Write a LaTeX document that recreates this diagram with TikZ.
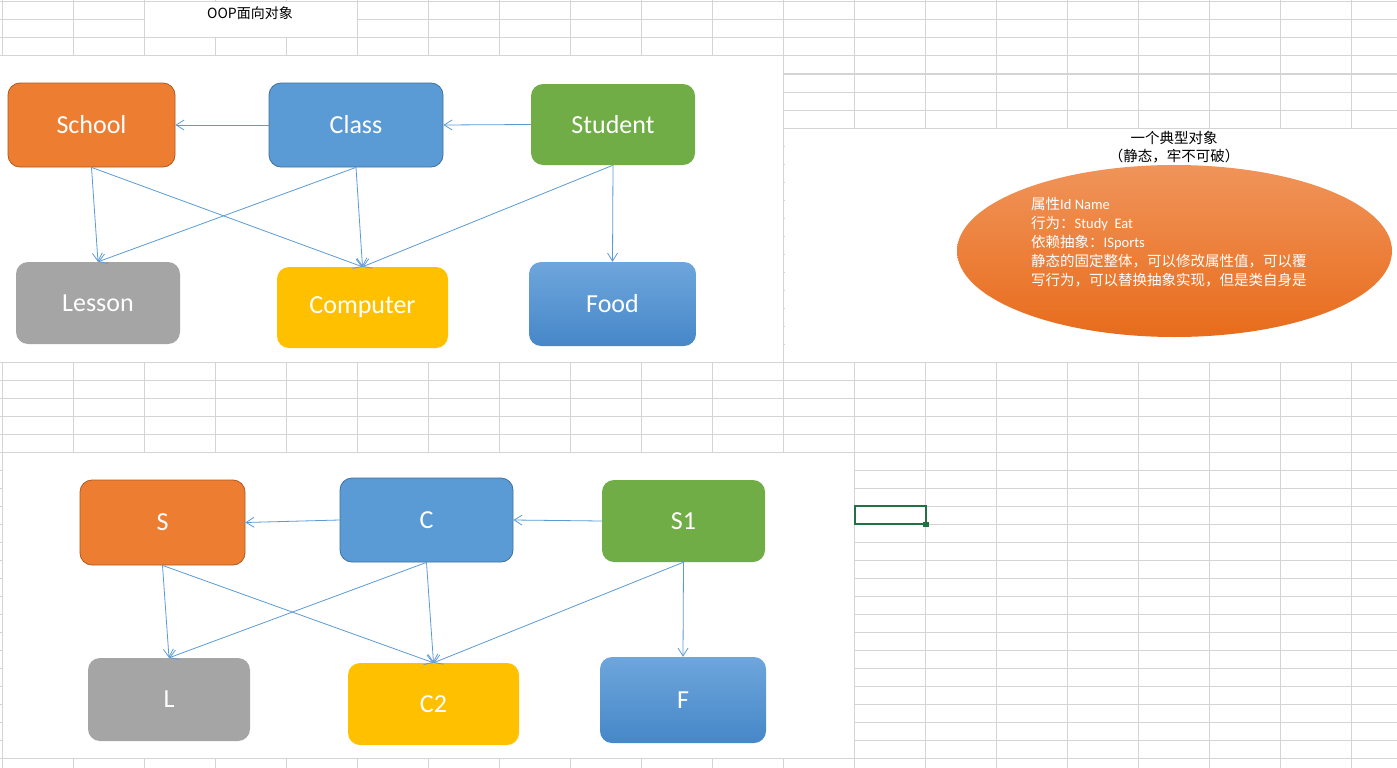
\documentclass[tikz,border=0pt]{standalone}
\usepackage{fontspec}
\setmainfont{Carlito}
\newfontfamily\cjk{Noto Sans CJK SC}
\usetikzlibrary{arrows.meta,shapes.geometric}
\definecolor{gridGray}{HTML}{D4D4D4}
\definecolor{orangeFill}{HTML}{ED7D31}
\definecolor{orangeLine}{HTML}{AE5A21}
\definecolor{blueFill}{HTML}{5B9BD5}
\definecolor{blueLine}{HTML}{41719C}
\definecolor{greenFill}{HTML}{70AD47}
\definecolor{grayFill}{HTML}{A5A5A5}
\definecolor{yellowFill}{HTML}{FFC000}
\definecolor{foodTop}{HTML}{6EA6DC}
\definecolor{foodBottom}{HTML}{4687C8}
\definecolor{ellTop}{HTML}{F0945A}
\definecolor{ellBottom}{HTML}{E86C1C}
\definecolor{selGreen}{HTML}{217346}
\begin{document}
\begin{tikzpicture}[
        x=1pt, y=-1pt,
        cell/.style={draw=gridGray, line width=1pt},
        box/.style={rounded corners=12pt, inner sep=0pt, text=white,
            font=\fontsize{26}{30}\selectfont},
        wh/.style 2 args={minimum width=#1pt, minimum height=#2pt},
        orangebox/.style={box, fill=orangeFill, draw=orangeLine, line width=0.8pt},
        bluebox/.style={box, fill=blueFill, draw=blueLine, line width=0.8pt},
        greenbox/.style={box, fill=greenFill},
        graybox/.style={box, fill=grayFill},
        yellowbox/.style={box, fill=yellowFill},
        gradbox/.style={box, top color=foodTop, bottom color=foodBottom},
        ar/.style={every edge/.append style={-{Straight Barb[length=8pt,width=10pt]},
            draw=blueFill, line width=0.8pt}},
    ]
    \useasboundingbox (0,0) rectangle (1397,768);

    % sheet grid
    \foreach \i in {0,...,19}
        \draw[cell] (2+71.05*\i,0) -- (2+71.05*\i,768);
    \foreach \j in {0,...,42}
        \draw[cell] (0,2+18*\j) -- (1397,2+18*\j);

    % white blocks
    \fill[white] (144.5,2.5) rectangle (357,37.5);
    \fill[white] (0,56.5) rectangle (783,361.5);
    \fill[white] (784.5,128.5) rectangle (1397,361.5);
    \fill[white] (2.5,452.5) rectangle (854,757.5);

    \node[font=\cjk\fontsize{14}{16}\selectfont](title) at (250,13) {OOP面向对象};

    % first diagram
    \node[orangebox, wh={167}{84}](school) at (91.5,125) {School};
    \node[bluebox, wh={174}{84}](class) at (356,125) {Class};
    \node[greenbox, wh={164}{81}](student) at (613,124.5) {Student};
    \node[graybox, wh={164}{82}](lesson) at (98,303) {Lesson};
    \node[yellowbox, wh={171}{81}](computer) at (362.5,307.5) {Computer};
    \node[gradbox, wh={167}{84}](food) at (612.5,304) {Food};

    \path[ar]
    (class.west) edge (school.east)
    (student.west) edge (class.east)
    (school.south) edge (lesson.north) edge (computer.north)
    (class.south) edge (lesson.north) edge (computer.north)
    (student.south) edge (computer.north) edge (food.north)
    ;

    % typical object
    \node[font=\cjk\fontsize{14.5}{18}\selectfont, align=center](cap) at (1174,147)
        {一个典型对象\\（静态，牢不可破）};
    \node[ellipse, minimum width=435pt, minimum height=172pt,
        top color=ellTop, bottom color=ellBottom](obj) at (1174.5,251) {};
    \node[anchor=north west, inner sep=0pt, text=white, align=left,
        font=\fontsize{14.5}{19}\selectfont](objtext) at (1031,197)
        {{\cjk 属性}Id Name\\
         {\cjk 行为：}Study\ \ Eat\\
         {\cjk 依赖抽象：}ISports\\
         {\cjk 静态的固定整体，可以修改属性值，可以覆}\\
         {\cjk 写行为，可以替换抽象实现，但是类自身是}};

    % second diagram
    \node[orangebox, wh={165}{85}](s) at (162.5,522.5) {S};
    \node[bluebox, wh={173}{84}](c) at (426.5,520) {C};
    \node[greenbox, wh={163}{82}](s1) at (683.5,521) {S1};
    \node[graybox, wh={162}{83}](l) at (169,699.5) {L};
    \node[yellowbox, wh={171}{82}](c2) at (433.5,704) {C2};
    \node[gradbox, wh={166}{86}](f) at (683,700) {F};

    \path[ar]
    (c.west) edge (s.east)
    (s1.west) edge (c.east)
    (s.south) edge (l.north) edge (c2.north)
    (c.south) edge (l.north) edge (c2.north)
    (s1.south) edge (c2.north) edge (f.north)
    ;

    % selected cell
    \draw[selGreen, line width=2pt] (854.6,506) rectangle (925.6,524);
    \fill[selGreen] (923,521.5) rectangle (928.5,527);
\end{tikzpicture}
\end{document}
